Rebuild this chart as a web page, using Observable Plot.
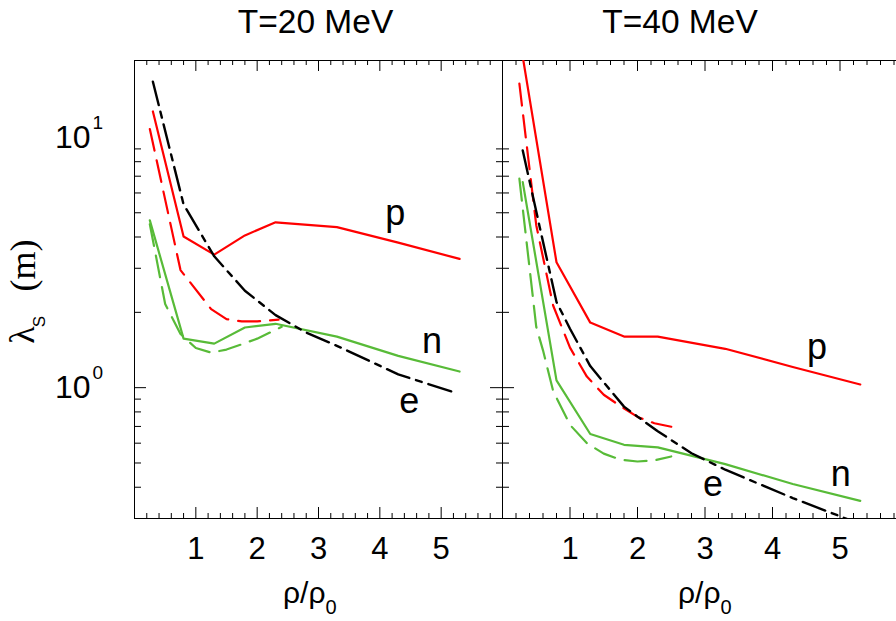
<!DOCTYPE html>
<html><head><meta charset="utf-8">
<script src="https://cdn.jsdelivr.net/npm/d3@7"></script>
<script src="https://cdn.jsdelivr.net/npm/@observablehq/plot@0.6"></script>
<style>
body{margin:0;background:#fff;}
#wrap{position:relative;width:896px;height:621px;overflow:hidden;background:#fff;}
#wrap svg{position:absolute;top:0;overflow:visible;}
</style></head><body><div id="wrap"></div>
<script>
// ---------- data: T = 20 MeV ----------
const xSolid = [0.3, 0.8, 1.3, 1.8, 2.3, 3.3, 4.3, 5.3];
const p20 = [12.7, 4.02, 3.40, 4.06, 4.58, 4.38, 3.80, 3.27];
const n20x = [0.25, 0.8, 1.3, 1.8, 2.3, 3.3, 4.3, 5.3];
const n20 = [4.66, 1.57, 1.50, 1.74, 1.80, 1.60, 1.34, 1.16];
const e20x = [0.3, 0.8, 1.3, 1.8, 2.3, 2.8, 3.3, 4.3, 5.2];
const e20 = [16.7, 5.4, 3.35, 2.44, 1.95, 1.66, 1.47, 1.13, 0.96];
const pd20x = [0.25, 0.75, 1.25, 1.5, 1.75, 2.0, 2.35];
const pd20 = [10.8, 2.95, 2.06, 1.88, 1.84, 1.84, 1.87];
const nd20x = [0.25, 0.5, 0.75, 1.0, 1.25, 1.5, 1.75, 2.0, 2.4];
const nd20 = [4.5, 2.16, 1.64, 1.44, 1.38, 1.42, 1.49, 1.57, 1.75];
// ---------- data: T = 40 MeV ----------
const p40 = [21, 3.17, 1.82, 1.60, 1.60, 1.43, 1.21, 1.03];
const n40 = [6.63, 1.07, 0.653, 0.591, 0.577, 0.495, 0.412, 0.353];
const e40x = [0.3, 0.55, 0.8, 1.0, 1.3, 1.5, 1.8, 2.0, 2.3, 2.8, 3.3, 4.3, 5.3];
const e40 = [8.87, 4.4, 2.2, 1.72, 1.22, 1.05, 0.84, 0.766, 0.67, 0.547, 0.47, 0.362, 0.285];
const pd40x = [0.25, 0.5, 0.75, 1.0, 1.25, 1.5, 1.75, 2.0, 2.25, 2.5];
const pd40 = [16.4, 4.46, 2.13, 1.445, 1.107, 0.937, 0.843, 0.764, 0.721, 0.698];
const nd40x = [0.25, 0.5, 0.6, 0.75, 1.0, 1.25, 1.5, 1.75, 2.0, 2.25, 2.5];
const nd40 = [6.84, 1.75, 1.41, 0.97, 0.71, 0.60, 0.545, 0.515, 0.507, 0.512, 0.531];
// ---------- curve labels ----------
const labelText = ["p", "n", "e"];
const label20x = [4.25, 4.85, 4.48];
const label20y = [4.97, 1.53, 0.883];
const label40x = [4.66, 5.01, 3.12];
const label40y = [1.445, 0.449, 0.409];
// ---------- ticks ----------
const xTickLabels = [1, 2, 3, 4, 5];
const xMinor = [0.2,0.4,0.6,0.8,1.2,1.4,1.6,1.8,2.2,2.4,2.6,2.8,3.2,3.4,3.6,3.8,4.2,4.4,4.6,4.8,5.2,5.4,5.6,5.8];
const yMinor = [0.4,0.5,0.6,0.7,0.8,0.9,2,3,4,5,6,7,8,9];
const yMajor = [1];
const yTickValues = [1, 10];
const yExponents = ["0", "1"];
const titles = ["T=20 MeV", "T=40 MeV"];

const RED = "#ff0000", GREEN = "#58bb38", BLACK = "#000000";
const H = 458;

function zip(xs, ys) { return xs.map((x, i) => ({x, y: ys[i]})); }

function panel({width, marginLeft, marginRight, title, titleDx, series, labX, labY, leftLabels, rightEdgeTicks}) {
  const W = width - marginLeft - marginRight;
  const marks = [];
  marks.push(Plot.tickX(xMinor, {x: d => d, insetBottom: H - 5, stroke: BLACK}));
  marks.push(Plot.tickX(xTickLabels, {x: d => d, insetBottom: H - 11, stroke: BLACK}));
  marks.push(Plot.tickX(xMinor, {x: d => d, insetTop: H - 5, stroke: BLACK}));
  marks.push(Plot.tickX(xTickLabels, {x: d => d, insetTop: H - 11, stroke: BLACK}));
  marks.push(Plot.tickY(yMinor, {y: d => d, insetRight: W - 7, stroke: BLACK}));
  marks.push(Plot.tickY(yMajor, {y: d => d, insetRight: W - 12, stroke: BLACK}));
  if (rightEdgeTicks) {
    marks.push(Plot.tickY(yMinor, {y: d => d, insetLeft: W - 6, stroke: BLACK}));
    marks.push(Plot.tickY(yMajor, {y: d => d, insetLeft: W - 12, stroke: BLACK}));
  }
  marks.push(Plot.frame({stroke: BLACK, strokeWidth: 1}));
  marks.push(Plot.axisX(xTickLabels, {anchor: "bottom", tickSize: 0, tickPadding: 18, fontSize: 31, label: null, tickFormat: d => String(d)}));
  if (leftLabels) {
    marks.push(Plot.axisY(yTickValues, {anchor: "left", tickSize: 0, tickPadding: 44, fontSize: 32, label: null, tickFormat: () => "10"}));
    marks.push(Plot.text(yTickValues, {y: d => d, text: (d, i) => yExponents[i], frameAnchor: "left", textAnchor: "start", dx: -42, dy: -15, fontSize: 19}));
  }
  for (const s of series) {
    marks.push(Plot.line(s.data, {x: "x", y: "y", stroke: s.color, strokeWidth: s.w || 2.2, strokeDasharray: s.dash, clip: true}));
  }
  marks.push(Plot.text(labelText, {x: (d, i) => labX[i], y: (d, i) => labY[i], text: d => d, fontSize: 36}));
  marks.push(Plot.text([title], {frameAnchor: "top", lineAnchor: "bottom", dy: -28, dx: titleDx, fontSize: 33.5, text: d => d}));
  return Plot.plot({
    width, height: 621, marginLeft, marginRight, marginTop: 60, marginBottom: 103,
    style: {fontFamily: "'Liberation Sans', Arial, sans-serif", overflow: "visible", background: "transparent", color: "black"},
    x: {domain: [0, 6], axis: null},
    y: {type: "log", domain: [0.3, 20.3], axis: null},
    marks
  });
}

const dashed = "22,10";
const dashDot = "24,7,6,7";

const left = panel({
  width: 502, marginLeft: 134, marginRight: 0, title: titles[0], titleDx: -3,
  leftLabels: true, rightEdgeTicks: true,
  labX: label20x, labY: label20y,
  series: [
    {data: zip(pd20x, pd20), color: RED, dash: dashed},
    {data: zip(nd20x, nd20), color: GREEN, dash: dashed},
    {data: zip(xSolid, p20), color: RED},
    {data: zip(n20x, n20), color: GREEN},
    {data: zip(e20x, e20), color: BLACK, dash: dashDot, w: 2.4}
  ]
});
const right = panel({
  width: 427, marginLeft: 12, marginRight: 10, title: titles[1], titleDx: -25,
  leftLabels: false, rightEdgeTicks: false,
  labX: label40x, labY: label40y,
  series: [
    {data: zip(pd40x, pd40), color: RED, dash: dashed},
    {data: zip(nd40x, nd40), color: GREEN, dash: dashed},
    {data: zip(xSolid, p40), color: RED},
    {data: zip(xSolid, n40), color: GREEN},
    {data: zip(e40x, e40), color: BLACK, dash: dashDot, w: 2.4}
  ]
});
left.style.left = "0px";
right.style.left = "490px";
const wrap = document.getElementById("wrap");
wrap.appendChild(left);
wrap.appendChild(right);

function xTitle(svg, x) {
  const t = d3.select(svg).append("text").attr("x", x).attr("y", 603).attr("text-anchor", "start")
    .attr("font-family", "'Liberation Sans', Arial, sans-serif").attr("font-size", 30).attr("fill", "black");
  t.append("tspan").text("ρ/ρ");
  t.append("tspan").attr("font-size", 20).attr("dy", 11).text("0");
}
xTitle(left, 283);
xTitle(right, 678 - 490);

const g = d3.select(left).append("g").attr("fill", "black");
g.append("text").attr("transform", "translate(34,335) rotate(-90)").attr("text-anchor", "middle")
  .attr("font-family", "'Liberation Serif', serif").attr("font-size", 36).text("λ");
g.append("text").attr("transform", "translate(45,321.5) rotate(-90)").attr("text-anchor", "middle")
  .attr("font-family", "'Liberation Sans', sans-serif").attr("font-size", 17).text("S");
g.append("text").attr("transform", "translate(35,265.5) rotate(-90)").attr("text-anchor", "middle")
  .attr("font-family", "'Liberation Serif', serif").attr("font-size", 36).text("(m)");
</script></body></html>
